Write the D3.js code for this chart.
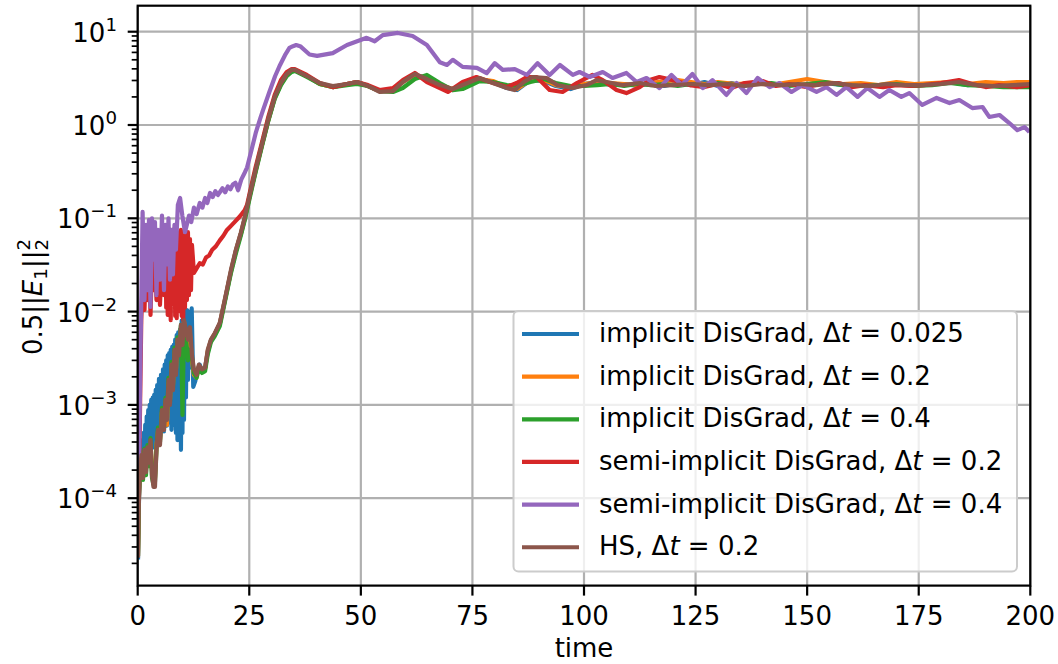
<!DOCTYPE html>
<html><head><meta charset="utf-8">
<script src="https://cdn.jsdelivr.net/npm/d3@7"></script>
<style>body{margin:0;background:#fff}svg text{font-family:"DejaVu Sans",sans-serif;fill:#000}</style>
</head><body><svg id="chart" width="1058" height="664"></svg>
<script>
// ---- data: [time, 0.5||E1||^2] ----
const implicitDt0025 = [
[0.07,2.2e-5],[0.29,9.6e-5],[0.51,1.57e-4],[0.68,3.5e-4],[0.85,2.2e-4],[1.02,4.2e-4],[1.19,2.0e-4],[1.35,5.0e-4],[1.52,2.4e-4],[1.69,6.1e-4],[1.86,2.6e-4],[2.02,7.5e-4],[2.19,3.0e-4],[2.36,8.8e-4],[2.53,2.9e-4],[2.70,1.0e-3],[2.87,3.3e-4],[3.03,1.13e-3],[3.20,3.7e-4],[3.37,1.2e-3],[3.54,3.5e-4],[3.70,1.28e-3],[3.87,4.2e-4],[4.04,1.45e-3],[4.21,3.9e-4],[4.37,1.63e-3],[4.54,5.4e-4],[4.77,1.9e-3],[4.99,4.6e-4],[5.22,2.1e-3],[5.44,6.1e-4],[5.67,2.4e-3],[5.89,5.2e-4],[6.05,2.7e-3],[6.22,6.9e-4],[6.39,3.0e-3],[6.56,6.0e-4],[6.73,3.4e-3],[6.90,7.8e-4],[7.06,3.6e-3],[7.23,6.5e-4],[7.40,3.9e-3],[7.57,5.4e-4],[7.73,4.2e-3],[7.90,7.0e-4],[8.07,4.4e-3],[8.24,6.1e-4],[8.40,5.0e-3],[8.57,5.0e-4],[8.74,5.6e-3],[8.91,4.2e-4],[9.08,6.0e-3],[9.25,5.0e-4],[9.47,6.4e-3],[9.69,3.3e-4],[9.86,8.0e-3],[10.03,5.0e-4],[10.2,9.2e-3],[10.37,6.9e-4],[10.59,1.0e-2],[10.81,1.2e-3],[11.03,1.04e-2],[11.26,1.85e-3],[11.48,1.0e-2],[11.71,2.5e-3],[12.1,1.08e-2],[12.45,1.56e-3],[12.9,1.8e-3],[13.4,2.4e-3],[13.9,2.7e-3],[14.4,2.3e-3],[15.1,2.5e-3],[15.7,3.7e-3],[16.4,4.9e-3],[17.3,5.8e-3],[18.4,7.4e-3],[19.5,0.013],[20.9,0.027],[22.0,0.045],[23.1,0.068],[24.0,0.100],[25.1,0.174],[26.4,0.32],[27.8,0.60],[29.2,1.10],[30.7,1.95],[32.1,2.75],[33.4,3.44],[34.5,3.80],
[35.2,3.89],[37.9,3.35],[40.8,2.75],[43.7,2.55],[46.9,2.75],[49.1,2.89],[51.6,2.62],[54.2,2.31],[57.2,2.37],[59.4,2.89],[62.1,3.44],[64.8,3.19],[67.7,2.62],[70.6,2.37],[72.8,2.55],[76.6,3.11],[79.6,2.89],[82.7,2.49],[85,2.37],[88,3.03],[91,2.96],[93.7,2.62],[97,2.43],[100,2.75],[103,2.89],[106,2.68],[109,2.75],[112,2.62],[115,2.82],[118,2.62],[121,2.82],[124,2.68],[127,2.89],[130,2.62],[133,2.82],[136,2.62],[139,2.82],[142,2.68],[146,2.75],[150,2.62],[154,2.82],[158,2.68],[162,2.75],[166,2.62],[170,2.82],[174,2.62],[178,2.75],[182,2.89],[186,2.68],[190,2.82],[194,2.62],[197,2.75],[200,2.82]];

const implicitDt02 = [
[0.07,2.4e-5],[0.29,1.0e-4],[0.51,2.1e-4],[0.85,2.7e-4],[1.19,1.77e-4],[1.52,3.1e-4],[1.86,2.1e-4],[2.19,3.3e-4],[2.53,2.7e-4],[2.87,3.9e-4],[3.20,2.0e-4],[3.54,1.57e-4],[3.87,1.65e-4],[4.21,3.7e-4],[4.54,5.2e-4],[4.99,4.2e-4],[5.44,8.4e-4],[5.89,6.1e-4],[6.22,1.07e-3],[6.56,6.1e-4],[6.90,1.7e-3],[7.23,1.13e-3],[7.57,2.5e-3],[7.90,1.63e-3],[8.24,3.6e-3],[8.57,2.4e-3],[8.91,4.7e-3],[9.25,3.7e-3],[9.69,6.6e-3],[10.03,5.0e-3],[10.37,7.8e-3],[10.81,5.6e-3],[11.26,4.4e-3],[11.71,5.6e-3],[12.16,3.0e-3],[12.6,2.1e-3],[13.2,1.97e-3],[13.7,2.6e-3],[14.4,2.3e-3],[15.1,2.45e-3],[15.7,3.8e-3],[16.4,4.9e-3],[17.3,5.8e-3],[18.4,7.4e-3],[19.5,0.013],[20.9,0.027],[22.0,0.045],[23.1,0.068],[24.0,0.100],[25.1,0.174],[26.4,0.32],[27.8,0.60],[29.2,1.10],[30.7,1.95],[32.1,2.75],[33.4,3.44],[34.5,3.80],
[35.2,3.89],[37.9,3.35],[40.8,2.75],[43.7,2.55],[46.9,2.75],[49.1,2.89],[51.6,2.62],[54.2,2.31],[57.2,2.37],[59.4,2.89],[62.1,3.44],[64.8,3.19],[67.7,2.68],[70.6,2.43],[72.8,2.62],[76.6,3.11],[79.6,2.96],[82.7,2.55],[85,2.43],[88,3.03],[91,3.03],[93.7,2.68],[97,2.55],[100,2.75],[103,2.89],[106,2.82],[109,2.75],[112,2.68],[115,2.82],[118,2.96],[121,3.03],[124,2.89],[127,2.75],[130,2.89],[134,2.75],[138,2.82],[142,2.68],[146,2.89],[150,3.11],[154,2.89],[158,2.75],[162,2.82],[166,2.68],[170,2.89],[174,2.75],[178,2.82],[182,2.89],[186,2.75],[190,2.89],[194,2.82],[197,2.89],[200,2.89]];

const implicitDt04 = [
[0.07,2.4e-5],[0.29,1.2e-4],[0.51,1.9e-4],[0.85,3.1e-4],[1.19,1.57e-4],[1.52,3.4e-4],[1.86,1.77e-4],[2.19,3.7e-4],[2.53,2.2e-4],[2.87,4.4e-4],[3.20,1.65e-4],[3.54,1.4e-4],[3.87,1.5e-4],[4.21,3.4e-4],[4.54,5.7e-4],[4.99,4.0e-4],[5.44,9.3e-4],[5.89,5.7e-4],[6.22,1.19e-3],[6.56,7.2e-4],[6.90,1.95e-3],[7.23,1.07e-3],[7.57,2.9e-3],[7.90,1.5e-3],[8.24,4.1e-3],[8.57,2.3e-3],[8.91,5.3e-3],[9.25,3.9e-3],[9.69,7.2e-3],[10.03,7.8e-4],[10.37,6.4e-3],[10.81,5.3e-3],[11.26,3.0e-3],[11.71,3.9e-3],[12.16,3.2e-3],[12.6,2.2e-3],[13.2,1.95e-3],[13.7,2.5e-3],[14.4,2.2e-3],[15.1,2.3e-3],[15.7,3.5e-3],[16.4,4.7e-3],[17.3,5.5e-3],[18.4,7.0e-3],[19.5,0.0125],[20.9,0.026],[22.0,0.042],[23.1,0.065],[24.0,0.096],[25.1,0.165],[26.4,0.31],[27.8,0.58],[29.2,1.08],[30.7,1.90],[32.1,2.68],[33.4,3.35],[34.5,3.70],
[35.2,3.80],[37.9,3.27],[40.8,2.75],[43.7,2.55],[46.9,2.68],[49.1,2.75],[51.6,2.62],[54.2,2.31],[57.2,2.26],[59.4,2.49],[62.1,3.11],[64.8,3.44],[67.7,2.82],[70.6,2.37],[72.8,2.43],[76.6,2.96],[79.6,2.89],[82.7,2.68],[85,2.62],[88,2.89],[91,3.11],[93.7,2.82],[97,2.62],[100,2.62],[103,2.68],[106,2.75],[109,2.62],[112,2.75],[115,2.68],[118,2.75],[121,2.62],[124,2.75],[127,2.68],[130,2.82],[134,2.68],[138,2.75],[142,2.82],[146,2.62],[150,2.75],[154,2.89],[158,2.68],[162,2.62],[166,2.68],[170,2.75],[174,2.62],[178,2.68],[182,2.82],[186,2.68],[190,2.62],[194,2.55],[197,2.55],[200,2.55]];

const semiImplicitDt02 = [
[0.3,1.57e-4],[0.55,1.13e-3],[0.8,8.1e-3],[1.19,0.028],[1.52,0.0104],[1.86,0.036],[2.19,0.0133],[2.53,0.040],[2.87,0.0092],[3.20,0.032],[3.54,0.017],[3.87,0.040],[4.21,0.0133],[4.54,0.046],[4.99,0.0118],[5.44,0.036],[5.89,0.015],[6.05,0.015],[6.22,0.066],[6.39,0.011],[6.56,0.055],[6.73,0.0092],[6.90,0.078],[7.06,0.0095],[7.23,0.060],[7.40,0.0081],[7.57,0.066],[7.73,0.012],[7.90,0.070],[8.07,0.0133],[8.24,0.078],[8.40,0.009],[8.57,0.060],[8.74,0.0085],[8.91,0.071],[9.08,0.010],[9.25,0.065],[9.47,0.0118],[9.69,0.075],[9.86,0.009],[10.03,0.060],[10.2,0.0081],[10.37,0.066],[10.59,0.011],[10.81,0.070],[11.03,0.0133],[11.26,0.071],[11.48,0.015],[11.71,0.060],[11.94,0.017],[12.16,0.052],[12.6,0.026],[13.2,0.029],[13.9,0.033],[14.6,0.032],[15.3,0.038],[16.0,0.040],[16.7,0.046],[17.5,0.050],[18.4,0.058],[19.2,0.065],[20.0,0.075],[20.9,0.083],[21.7,0.091],[22.5,0.10],[23.3,0.111],[24.0,0.123],[24.5,0.139],[25.1,0.187],[26.4,0.35],[27.8,0.64],[29.2,1.19],[30.7,2.10],[32.1,3.03],[33.4,3.70],[34.5,3.98],
[35.2,3.98],[37.9,3.44],[40.8,2.82],[43.7,2.55],[46.9,2.75],[49.1,2.89],[51.6,2.68],[54.2,2.37],[57.2,2.49],[59.4,3.03],[62.1,3.61],[64.8,2.89],[67.7,2.49],[69.5,2.26],[72.8,2.89],[75.9,3.27],[79.6,2.82],[82.7,2.55],[84.9,2.82],[87.2,3.27],[89.4,3.27],[92.3,2.37],[95.2,2.26],[98.4,2.82],[101.9,3.44],[104.2,3.03],[107.3,2.37],[109.5,2.20],[112.5,2.55],[114.7,3.03],[116.9,3.27],[119.9,3.03],[123.7,2.68],[127,2.55],[130,2.75],[133,2.49],[136,2.82],[140,2.96],[143,2.62],[146,2.75],[150,2.55],[153,2.75],[157,2.82],[160,2.55],[163,2.68],[167,2.55],[170,2.68],[173,2.62],[176,2.68],[180,2.82],[184,3.03],[187,2.75],[190,2.55],[193,2.68],[197,2.55],[200,2.68]];

const semiImplicitDt04 = [
[0.25,1.7e-4],[0.5,1.2e-3],[0.8,0.0133],[1.1,0.117],[1.52,0.0133],[1.86,0.085],[2.19,0.017],[2.53,0.096],[2.87,0.0112],[3.20,0.10],[3.54,0.036],[3.87,0.091],[4.21,0.015],[4.54,0.075],[4.99,0.022],[5.44,0.107],[5.89,0.017],[6.22,0.085],[6.56,0.032],[6.90,0.10],[7.23,0.022],[7.57,0.075],[7.90,0.025],[8.24,0.085],[8.57,0.046],[9.0,0.139],[9.5,0.165],[10.0,0.107],[10.6,0.071],[11.0,0.085],[11.5,0.107],[12.0,0.091],[12.6,0.13],[13.2,0.111],[13.9,0.146],[14.5,0.13],[15.1,0.165],[15.6,0.146],[16.2,0.187],[16.8,0.169],[17.4,0.195],[18.0,0.178],[18.4,0.19],[19.0,0.21],[19.6,0.19],[20.2,0.22],[20.8,0.205],[21.3,0.23],[21.9,0.24],[22.5,0.20],[23.2,0.26],[24.0,0.31],[24.5,0.35],[25.5,0.54],[26.5,0.84],[27.5,1.19],[28.1,1.45],[29.5,2.26],[30.8,3.35],[31.9,4.4],[33.0,5.6],[34.0,6.7],[34.8,7.0],[35.5,7.2],[36.4,7.0],[38.5,5.7],[40.2,5.5],[43.7,5.9],[46.9,7.2],[51.3,8.6],[53.1,7.9],[54.9,9.2],[58.3,9.7],[61.6,9.0],[64.8,7.2],[67.7,4.7],[69.3,4.4],[70.6,5.0],[72.8,4.2],[76.0,4.1],[78.2,3.6],[80.0,4.6],[81.8,3.89],[84.5,3.98],[87.2,3.44],[89.6,4.6],[92.3,3.44],[94.6,4.4],[97.5,3.44],[99.0,3.70],[101.3,3.27],[104.2,3.70],[106.4,3.19],[109.5,3.61],[111.8,2.89],[114.0,3.19],[116.9,2.49],[119.6,3.44],[121.9,2.68],[124.3,3.52],[126.6,2.49],[128.8,3.03],[131.9,2.10],[134.2,2.82],[136.4,2.20],[138.9,3.19],[141.6,2.55],[143.8,2.82],[146.5,2.26],[149.0,2.68],[152.1,2.26],[154.3,2.55],[156.6,2.10],[158.8,2.55],[161.3,2.00],[163.5,2.49],[166.2,2.00],[168.4,2.37],[171.1,2.00],[172.9,2.20],[175.8,1.64],[179.0,1.95],[181.9,1.72],[184.1,1.85],[187.0,1.52],[189.3,1.56],[190.8,1.22],[193.1,1.28],[195.3,1.05],[197.1,0.88],[198.7,0.95],[199.8,0.84]];

const hsDt02 = [
[0.07,2.3e-5],[0.29,1.1e-4],[0.51,2.0e-4],[0.85,2.9e-4],[1.19,1.65e-4],[1.52,3.3e-4],[1.86,1.9e-4],[2.19,3.5e-4],[2.53,2.4e-4],[2.87,4.2e-4],[3.20,1.77e-4],[3.54,1.32e-4],[3.87,1.32e-4],[4.21,3.3e-4],[4.54,5.4e-4],[4.99,3.7e-4],[5.44,8.8e-4],[5.89,5.4e-4],[6.22,1.13e-3],[6.56,6.9e-4],[6.90,1.85e-3],[7.23,1.0e-3],[7.57,2.7e-3],[7.90,1.44e-3],[8.24,3.9e-3],[8.57,2.1e-3],[8.91,5.0e-3],[9.25,3.4e-3],[9.69,7.2e-3],[10.03,4.4e-3],[10.37,8.1e-3],[10.81,6.4e-3],[11.26,5.0e-3],[11.71,6.8e-3],[12.16,3.4e-3],[12.6,2.4e-3],[13.2,2.1e-3],[13.7,2.7e-3],[14.4,2.4e-3],[15.1,2.5e-3],[15.7,3.9e-3],[16.4,5.0e-3],[17.3,5.9e-3],[18.4,7.6e-3],[19.5,0.0133],[20.9,0.028],[22.0,0.046],[23.1,0.070],[24.0,0.103],[25.1,0.178],[26.4,0.33],[27.8,0.61],[29.2,1.13],[30.7,2.0],[32.1,2.82],[33.4,3.52],[34.5,3.89],
[35.2,3.89],[37.9,3.35],[40.8,2.82],[43.7,2.62],[46.9,2.75],[49.1,2.89],[51.6,2.62],[54.2,2.26],[57.2,2.31],[59.4,2.89],[62.1,3.52],[64.8,3.11],[67.7,2.68],[70.6,2.43],[72.8,2.68],[76.6,3.19],[79.6,2.82],[82.7,2.49],[84.5,2.37],[86.5,2.89],[88.5,3.27],[91.6,3.19],[94,2.68],[97.5,2.49],[100.6,2.68],[102.8,3.03],[105.1,2.89],[108.6,2.68],[112.5,2.82],[116,2.62],[120,2.68],[124,2.75],[128,2.68],[132,2.75],[136,2.62],[140,2.75],[144,2.68],[148,2.75],[152,2.68],[156,2.82],[160,2.68],[164,2.62],[168,2.75],[172,2.68],[176,2.68],[180,2.75],[184,2.89],[188,2.68],[192,2.62],[196,2.68],[200,2.75]];

const seriesNames = ["implicit DisGrad, ", "implicit DisGrad, ", "implicit DisGrad, ", "semi-implicit DisGrad, ", "semi-implicit DisGrad, ", "HS, "];
const seriesDt = ["0.025", "0.2", "0.4", "0.2", "0.4", "0.2"];
const seriesData = [implicitDt0025, implicitDt02, implicitDt04, semiImplicitDt02, semiImplicitDt04, hsDt02];
const seriesColors = ["#1f77b4", "#ff7f0e", "#2ca02c", "#d62728", "#9467bd", "#8c564b"];
const xTicks = [0, 25, 50, 75, 100, 125, 150, 175, 200];
const yExponents = [-4, -3, -2, -1, 0, 1];

// ---- layout ----
const L = 137.7, R = 1030.3, T = 5.7, B = 585.6;
const FS = 26;
const svg = d3.select("#chart");
const x = d3.scaleLinear().domain([0, 200]).range([L, R]);
const y = d3.scaleLog().domain([1.156e-5, 19.0]).range([B, T]);

svg.append("defs").append("clipPath").attr("id", "clip")
  .append("rect").attr("x", L).attr("y", T).attr("width", R - L).attr("height", B - T);

// grid
const grid = svg.append("g").attr("stroke", "#b0b0b0").attr("stroke-width", 2.2);
xTicks.forEach(t => grid.append("line").attr("x1", x(t)).attr("x2", x(t)).attr("y1", T).attr("y2", B));
yExponents.forEach(e => grid.append("line").attr("x1", L).attr("x2", R).attr("y1", y(Math.pow(10, e))).attr("y2", y(Math.pow(10, e))));

// lines
const line = d3.line().x(d => x(d[0])).y(d => y(d[1]));
const lines = svg.append("g").attr("clip-path", "url(#clip)");
seriesData.forEach((s, i) => {
  lines.append("path").attr("d", line(s)).attr("fill", "none")
    .attr("stroke", seriesColors[i]).attr("stroke-width", 4.2)
    .attr("stroke-linejoin", "round").attr("stroke-linecap", "butt");
});

// spines
svg.append("rect").attr("x", L).attr("y", T).attr("width", R - L).attr("height", B - T)
  .attr("fill", "none").attr("stroke", "#000").attr("stroke-width", 2.2);

// x ticks
const xa = svg.append("g");
xTicks.forEach(t => {
  xa.append("line").attr("x1", x(t)).attr("x2", x(t)).attr("y1", B).attr("y2", B + 10).attr("stroke", "#000").attr("stroke-width", 2.2);
  xa.append("text").attr("x", x(t)).attr("y", 625).attr("text-anchor", "middle").attr("font-size", FS).text(t);
});
svg.append("text").attr("x", (L + R) / 2).attr("y", 657).attr("text-anchor", "middle").attr("font-size", FS).text("time");

// y ticks
const ya = svg.append("g");
yExponents.forEach(e => {
  const yy = y(Math.pow(10, e));
  ya.append("line").attr("x1", L - 10).attr("x2", L).attr("y1", yy).attr("y2", yy).attr("stroke", "#000").attr("stroke-width", 2.2);
  const tx = ya.append("text").attr("x", 117).attr("y", yy + 10).attr("text-anchor", "end").attr("font-size", FS);
  tx.append("tspan").text("10");
  tx.append("tspan").attr("font-size", FS * 0.7).attr("dy", -11).text(e < 0 ? "\u2212" + (-e) : String(e));
});
for (let k = -5; k <= 1; k++) {
  for (let j = 2; j <= 9; j++) {
    const v = j * Math.pow(10, k);
    if (v < y.domain()[0] || v > y.domain()[1]) continue;
    ya.append("line").attr("x1", L - 6).attr("x2", L).attr("y1", y(v)).attr("y2", y(v)).attr("stroke", "#000").attr("stroke-width", 1.7);
  }
}

// y label
const yl = svg.append("g").attr("transform", "translate(41.5,297) rotate(-90)");
const ylt = yl.append("text").attr("font-size", FS);
ylt.append("tspan").text("0.5||");
ylt.append("tspan").attr("font-style", "italic").text("E");
ylt.append("tspan").attr("font-size", FS * 0.7).attr("dy", 5).text("1");
ylt.append("tspan").attr("dy", -5).text("||");
const wMain = ylt.node().getComputedTextLength();
const subs = yl.append("text").attr("font-size", FS * 0.7).attr("x", wMain).attr("y", 6).text("2");
const sups = yl.append("text").attr("font-size", FS * 0.7).attr("x", wMain).attr("y", -12).text("2");
const wSub = subs.node().getComputedTextLength();
const total = wMain + wSub;
ylt.attr("x", -total / 2);
subs.attr("x", -total / 2 + wMain);
sups.attr("x", -total / 2 + wMain);

// legend
const lg = svg.append("g");
lg.append("rect").attr("x", 513.5).attr("y", 311).attr("width", 503.5).attr("height", 260.5)
  .attr("rx", 5).attr("fill", "#fff").attr("fill-opacity", 0.8).attr("stroke", "#cccccc").attr("stroke-width", 2);
seriesData.forEach((s, i) => {
  const ly = 334 + i * 42.65;
  lg.append("line").attr("x1", 522).attr("x2", 579).attr("y1", ly).attr("y2", ly)
    .attr("stroke", seriesColors[i]).attr("stroke-width", 4.2);
  const t = lg.append("text").attr("x", 599).attr("y", ly + 8).attr("font-size", FS);
  t.append("tspan").text(seriesNames[i] + "\u0394");
  t.append("tspan").attr("font-style", "italic").text("t");
  t.append("tspan").text(" = " + seriesDt[i]);
});
</script></body></html>
